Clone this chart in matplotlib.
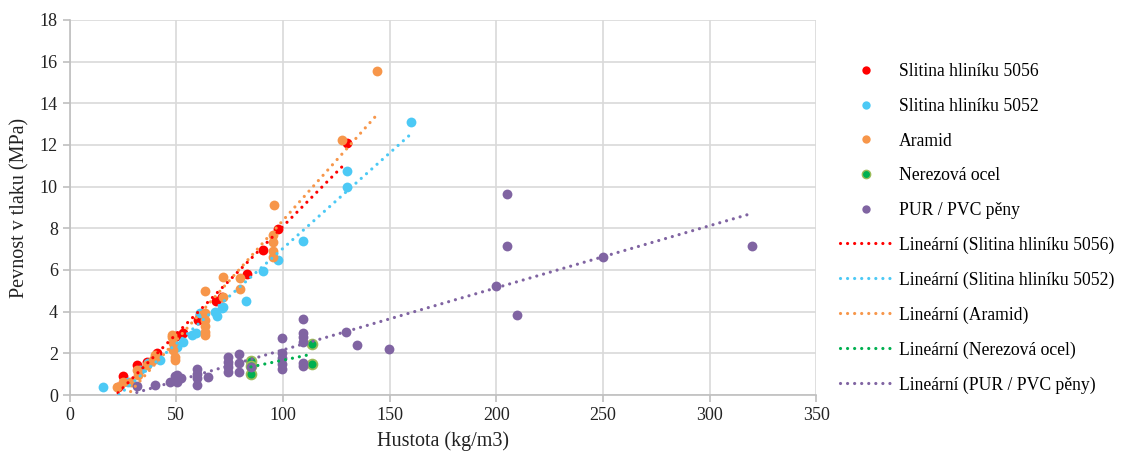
import numpy as np
import matplotlib
matplotlib.use("Agg")
import matplotlib.pyplot as plt
from matplotlib.lines import Line2D

plt.rcParams['font.family'] = ['Liberation Serif', 'DejaVu Serif']

# ---- data ----
red_x = [22.7, 25.2, 31.5, 36.1, 40.8, 49.9, 53.3, 60.3, 61.0, 68.6, 71.3, 83.0, 90.7, 97.8, 129.8]
red_y = [0.40, 0.91, 1.44, 1.60, 2.00, 2.83, 3.00, 3.60, 3.84, 4.53, 4.70, 5.82, 6.95, 7.95, 12.10]

cyan_x = [15.8, 27.2, 33.0, 36.9, 42.4, 49.4, 50.2, 53.3, 57.2, 59.3, 61.2, 68.2, 69.0, 71.3, 72.0,
          82.7, 90.7, 97.8, 109.6, 129.9, 129.9, 159.8]
cyan_y = [0.40, 0.64, 1.20, 1.52, 1.68, 2.40, 2.32, 2.56, 2.88, 3.00, 3.92, 4.00, 3.79, 4.16, 4.24,
          4.52, 5.93, 6.48, 7.39, 10.75, 10.00, 13.10]

orange_x = [22.0, 25.2, 29.0, 31.5, 32.2, 36.4, 39.2, 40.0, 47.9, 47.9, 48.6, 48.6, 49.4, 49.4,
            63.5, 63.5, 63.5, 63.5, 63.5, 63.5, 71.8, 71.8, 79.9, 79.9,
            95.5, 95.5, 95.5, 95.5, 95.8, 127.6, 144.0]
orange_y = [0.40, 0.64, 0.64, 1.20, 0.96, 1.44, 1.68, 1.92, 2.80, 2.88, 2.48, 2.16, 1.84, 1.70,
            5.00, 3.92, 3.60, 3.30, 3.04, 2.90, 5.65, 4.72, 5.60, 5.07,
            7.68, 7.36, 6.93, 6.64, 9.12, 12.24, 15.55]

green_x = [85.0, 85.0, 85.0, 113.5, 113.5]
green_y = [1.65, 1.40, 1.00, 2.43, 1.49]

purple_x = [31.5, 40.0, 47.0, 49.4, 50.2, 50.2, 52.0, 59.6, 59.6, 59.6, 59.6, 64.8,
            74.4, 74.4, 74.4, 74.4, 79.6, 79.6, 79.6, 84.9,
            99.7, 99.7, 99.7, 99.7, 99.7, 109.6, 109.6, 109.6, 109.6, 109.6, 109.6,
            129.7, 134.9, 149.7, 199.9, 205.1, 205.1, 209.8, 250.0, 320.0]
purple_y = [0.43, 0.48, 0.64, 0.91, 0.96, 0.64, 0.80, 1.23, 1.00, 0.80, 0.48, 0.88,
            1.84, 1.60, 1.36, 1.12, 1.95, 1.55, 1.12, 1.36,
            2.75, 2.00, 1.80, 1.50, 1.25, 3.63, 3.00, 2.80, 2.55, 1.55, 1.40,
            3.02, 2.42, 2.21, 5.25, 9.65, 7.14, 3.83, 6.62, 7.14]

series_names = ["Slitina hliníku 5056", "Slitina hliníku 5052", "Aramid",
                "Nerezová ocel", "PUR / PVC pěny"]
x_ticks = list(range(0, 351, 50))
y_ticks = list(range(0, 19, 2))

# ---- styles ----
colors = ['#FF0000', '#4CC9F5', '#F7964A', '#00B050', '#8064A2']
edges = ['#FF0000', '#4CC9F5', '#F7964A', '#9BBB59', '#8064A2']
data = [(red_x, red_y), (cyan_x, cyan_y), (orange_x, orange_y),
        (green_x, green_y), (purple_x, purple_y)]
dot_style = (0, (0.01, 2.2))

fig = plt.figure(figsize=(11.21, 4.53), dpi=100)
ax = fig.add_axes([0.0621, 0.128, 0.6661, 0.828])

for (xs, ys), c, e in zip(data, colors, edges):
    ax.scatter(xs, ys, s=50, color=c, edgecolors=e, linewidths=1.3 if e != c else 0, zorder=3)

for (xs, ys), c in zip(data, colors):
    xs = np.asarray(xs); ys = np.asarray(ys)
    k, q = np.polyfit(xs, ys, 1)
    xx = np.linspace(xs.min(), xs.max(), 50)
    ax.plot(xx, k * xx + q, linestyle=dot_style, color=c, lw=2.3, zorder=4,
            dash_capstyle='round')

ax.set_xlim(0, 350)
ax.set_ylim(0, 18)
ax.set_xticks(x_ticks)
ax.set_yticks(y_ticks)
ax.grid(True, color='#D9D9D9', lw=1.2, zorder=0)
ax.set_axisbelow(True)
for s in ['top', 'right']:
    ax.spines[s].set_visible(False)
for s in ['left', 'bottom']:
    ax.spines[s].set_color('#BFBFBF')
    ax.spines[s].set_linewidth(1.2)
ax.tick_params(axis='both', colors='#BFBFBF', labelcolor='#222222', labelsize=13, length=5, width=1.2)
ax.set_xlabel("Hustota (kg/m3)", fontsize=14.5, color='#222222', labelpad=5)
ax.set_ylabel("Pevnost v tlaku (MPa)", fontsize=14.5, color='#222222', labelpad=7)

handles = []
labels = []
for n, c, e in zip(series_names, colors, edges):
    handles.append(Line2D([], [], linestyle='none', marker='o', markersize=6,
                          markerfacecolor=c, markeredgecolor=e, markeredgewidth=1.0 if e != c else 0))
    labels.append(n)
for n, c in zip(series_names, colors):
    handles.append(Line2D([], [], linestyle=dot_style, color=c, lw=2.3, dash_capstyle='round'))
    labels.append("Lineární (" + n + ")")

fig.legend(handles, labels, loc='upper left', bbox_to_anchor=(0.743, 0.876),
           frameon=False, fontsize=12.7, labelspacing=1.0, handlelength=2.95,
           handletextpad=0.4, borderaxespad=0)

fig.savefig("out.png", dpi=100)
